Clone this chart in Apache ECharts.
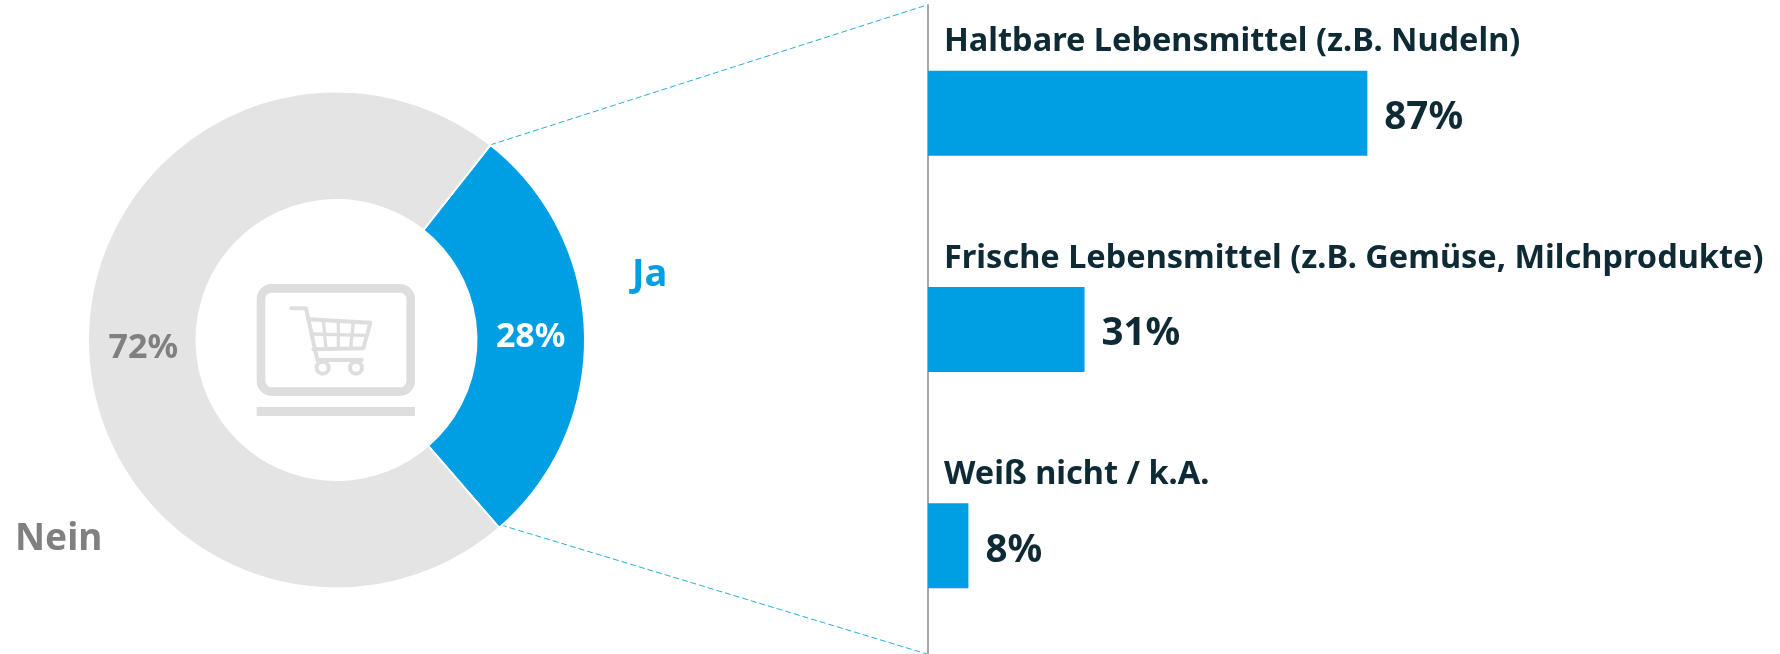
<!DOCTYPE html>
<html>
<head>
<meta charset="utf-8">
<style>html,body{margin:0;padding:0;background:#fff}#chart{width:1780px;height:654px}</style>
<script src="https://cdn.jsdelivr.net/npm/echarts@6/dist/echarts.min.js"></script>
</head>
<body>
<div id="chart"></div>
<script>
  var pieNames = ["Ja", "Nein"];
  var pieValues = [28, 72];
  var barNames = ["Haltbare Lebensmittel (z.B. Nudeln)", "Frische Lebensmittel (z.B. Gemüse, Milchprodukte)", "Weiß nicht / k.A."];
  var barValues = [87, 31, 8];

  var BLUE = "#009fe3", GREY = "#e4e4e4", ICON = "#dedede", DARK = "#0e2a35", MUTED = "#808080";
  var FONT = "'Noto Sans', sans-serif";

  /* laptop + cart icon, drawn in units of 1/3 px */
  var st = { stroke: ICON, fill: null, lineWidth: 8, lineJoin: "round", lineCap: "round" };
  function poly(points, w) {
    return { type: "polyline", shape: { points: points }, style: Object.assign({}, st, w ? { lineWidth: w } : {}) };
  }
  var icon = {
    type: "group", x: 230, y: 260, scaleX: 1 / 3, scaleY: 1 / 3, silent: true,
    children: [
      { type: "rect", shape: { x: 93, y: 85, width: 449, height: 310, r: 32 }, style: Object.assign({}, st, { lineWidth: 26 }) },
      { type: "rect", shape: { x: 80, y: 441, width: 475, height: 27 }, style: { fill: ICON } },
      poly([[184, 145], [228, 145], [262, 300], [395, 300]], 12),
      poly([[236, 178], [421, 188], [400, 265], [250, 268]], 12),
      poly([[243, 222], [410, 226]], 10),
      poly([[280, 182], [288, 265]], 10),
      poly([[325, 184], [325, 265]], 10),
      poly([[370, 186], [362, 265]], 10),
      { type: "circle", shape: { cx: 278, cy: 323, r: 18 }, style: Object.assign({}, st, { lineWidth: 12 }) },
      { type: "circle", shape: { cx: 378, cy: 323, r: 18 }, style: Object.assign({}, st, { lineWidth: 12 }) }
    ]
  };

  function connector(x1, y1, x2, y2) {
    return { type: "line", silent: true, shape: { x1: x1, y1: y1, x2: x2, y2: y2 },
      style: { stroke: "#29abe2", lineWidth: 1, lineDash: [6, 3] } };
  }

  var chart = echarts.init(document.getElementById("chart"));
  chart.setOption({
    animation: false,
    backgroundColor: "#fff",
    grid: { left: 928, top: 5, width: 505, height: 649.5 },
    xAxis: { type: "value", min: 0, max: 100, show: false },
    yAxis: {
      type: "category", inverse: true, data: barNames,
      axisTick: { show: false }, splitLine: { show: false }, axisLabel: { show: false },
      axisLine: { show: true, lineStyle: { color: "#a8a8a8", width: 2 } }
    },
    series: [
      { type: "pie", center: [336.5, 340], radius: [140, 248.5], startAngle: 51.7, clockwise: true,
        itemStyle: { borderColor: "#fff", borderWidth: 2 },
        label: { show: true, position: "inside", formatter: "{c}%", fontFamily: FONT, fontWeight: 700, fontSize: 34 },
        labelLine: { show: false }, emphasis: { disabled: true },
        data: [
          { name: pieNames[0], value: pieValues[0], itemStyle: { color: BLUE }, label: { color: "#fff", offset: [-3, 2] } },
          { name: pieNames[1], value: pieValues[1], itemStyle: { color: GREY }, label: { color: MUTED, offset: [4, 4] } }
        ] },
      { type: "bar", barWidth: 85, data: barValues, itemStyle: { color: BLUE },
        label: { show: true, position: "right", distance: 17, offset: [0, 5], formatter: "{c}%",
          fontFamily: FONT, fontWeight: 700, fontSize: 38.5, color: DARK } },
      /* category captions sit above the bars, anchored at the axis */
      { type: "scatter", symbolSize: 0, silent: true, itemStyle: { opacity: 1 },
        data: barNames.map(function (n) { return [0, n]; }),
        label: { show: true, position: "right", distance: 16, offset: [0, -71], formatter: function (p) { return p.value[1]; },
          fontFamily: FONT, fontWeight: 700, fontSize: 32.5, color: DARK, opacity: 1 } }
    ],
    graphic: [
      connector(490, 145, 927, 5),
      connector(501, 525, 927, 654),
      icon,
      { type: "text", x: 632, y: 275, style: { text: pieNames[0], fill: BLUE, font: "700 38px " + FONT, verticalAlign: "middle" } },
      { type: "text", x: 15, y: 539, style: { text: pieNames[1], fill: MUTED, font: "700 37px " + FONT, verticalAlign: "middle" } }
    ]
  });
</script>
</body>
</html>
